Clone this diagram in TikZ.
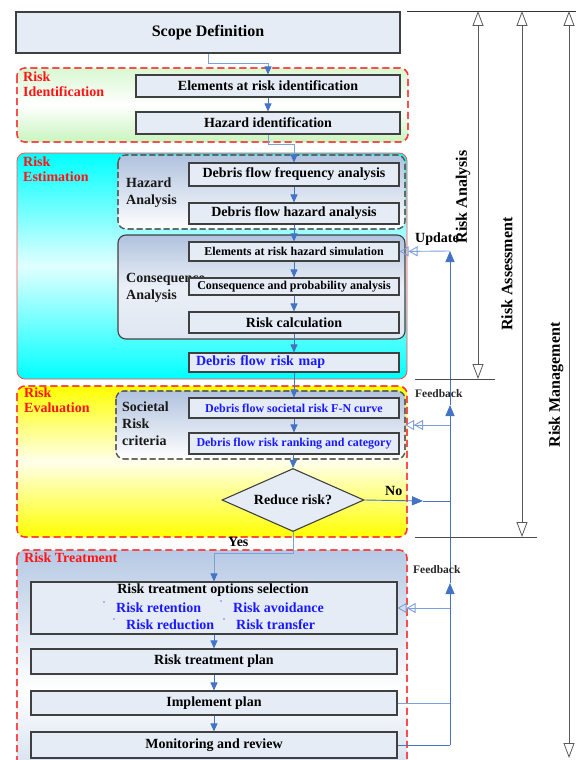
\documentclass[tikz,border=0pt]{standalone}
\usepackage{fontspec}
\setmainfont{Liberation Serif}
\usetikzlibrary{arrows.meta,shapes.geometric}
\definecolor{boxfill}{RGB}{230,236,246}
\definecolor{boxline}{RGB}{64,64,64}
\definecolor{flowblue}{RGB}{68,114,196}
\definecolor{lightblue}{RGB}{125,160,218}
\definecolor{txtblue}{RGB}{25,25,255}
\definecolor{lblred}{RGB}{255,20,20}
\definecolor{grpblue}{RGB}{176,194,222}
\definecolor{trtblue}{RGB}{182,201,228}
\definecolor{grngrad}{RGB}{200,245,190}
\begin{document}
\begin{tikzpicture}[x=1pt,y=-1pt,
  box/.style={draw=boxline, line width=1.1pt, fill=boxfill, inner sep=1pt,
    font=\bfseries\fontsize{14}{16}\selectfont},
  sbox/.style={box, font=\bfseries\fontsize{12}{14}\selectfont},
  flow/.style={draw=flowblue, line width=0.9pt, -{Triangle[length=8pt,width=7pt]}},
  thinflow/.style={draw=lightblue, line width=0.9pt, -{Triangle[length=8pt,width=7pt,color=flowblue]}},
  fb/.style={draw=flowblue, line width=0.9pt},
  fbtip/.style={fb, -{Triangle[length=11pt,width=9pt]}},
  dblopen/.style={draw=lightblue, line width=0.9pt,
    -{Triangle[open,length=9pt,width=10pt]Triangle[open,length=9pt,width=10pt]}},
  riskarr/.style={draw=black!65, line width=0.8pt,
    {Triangle[length=15pt,width=11pt,fill=white]}-{Triangle[length=15pt,width=11pt,fill=white]}},
  grpred/.style={draw=lblred!85, line width=1.3pt, dash pattern=on 7pt off 4pt, rounded corners=8},
  grpgray/.style={draw=black!65, line width=1.1pt, dash pattern=on 6pt off 3pt, rounded corners=8},
  lbl/.style={text=lblred, font=\bfseries\fontsize{14}{15}\selectfont, inner sep=0, align=left, anchor=north west},
  glbl/.style={text=black!90, font=\bfseries\fontsize{14}{17}\selectfont, inner sep=0, align=left, anchor=north west},
  rlbl/.style={font=\bfseries\fontsize{16}{18}\selectfont, rotate=90, inner sep=0},
  btxt/.style={text=txtblue, font=\bfseries\fontsize{14}{16}\selectfont, inner sep=0, anchor=base west},
  bdot/.style={fill=txtblue!60, draw=none, circle, inner sep=0, minimum size=1.6pt}
]
\useasboundingbox (0,0) rectangle (576,760);
\clip (0,0) rectangle (576,760);

% ---------- group backgrounds ----------
\path[grpred, top color=grngrad!70, bottom color=grngrad, middle color=white] (17,68) rectangle (408,142);
\draw[grpred] (17,68) rectangle (408,142);

\path[rounded corners=8, top color=cyan, bottom color=cyan, middle color=cyan!12] (17,153) rectangle (407,379);
\draw[draw=red!70, line width=0.8pt, rounded corners=8] (17,153) rectangle (407,379);

\path[grpgray, top color=grpblue, bottom color=white] (118,155) rectangle (405,229);
\draw[grpgray] (118,155) rectangle (405,229);
\draw[draw=boxline, line width=1.1pt, rounded corners=8, top color=grpblue, bottom color=grpblue!40, middle color=grpblue!25] (118,235) rectangle (405,339);

\path[grpred, top color=yellow, bottom color=yellow, middle color=yellow!8] (17,386) rectangle (407,537);
\draw[grpred] (17,386) rectangle (407,537);
\path[grpgray, top color=grpblue, bottom color=white] (116,391) rectangle (405,459);
\draw[grpgray] (116,391) rectangle (405,459);

\path[grpred, top color=trtblue, bottom color=trtblue, middle color=white] (17,550) rectangle (407,830);
\draw[grpred] (17,550) rectangle (407,830);

% ---------- group labels ----------
\node[lbl] (lri) at (23,72) {Risk\\Identification};
\node[lbl] (lre) at (23,157) {Risk\\Estimation};
\node[lbl] (lrv) at (24,388) {Risk\\Evaluation};
\node[lbl] (lrt) at (24,553) {Risk Treatment};
\node[glbl] (lha) at (126,178) {Hazard\\Analysis};
\node[glbl] (lca) at (126,273) {Consequence\\Analysis};
\node[glbl] (lsr) at (122,402) {Societal\\Risk\\criteria};

% ---------- boxes ----------
\node[box, font=\bfseries\fontsize{16}{18}\selectfont, minimum width=384, minimum height=41] (scope) at (208,32.5) {Scope Definition};
\node[box, minimum width=264, minimum height=22] (e1) at (268,86) {Elements at risk identification};
\node[box, minimum width=264, minimum height=22] (h1) at (268,123) {Hazard identification};

\node[box, minimum width=210, minimum height=23] (dff) at (294,174.5) {Debris flow frequency analysis};
\node[box, minimum width=210, minimum height=21] (dfh) at (294,213.5) {Debris flow hazard analysis};
\node[sbox, minimum width=210, minimum height=19] (ers) at (294,251.5) {Elements at risk hazard simulation};
\node[sbox, minimum width=210, minimum height=17] (cpa) at (294,286.5) {Consequence and probability analysis};
\node[box, minimum width=210, minimum height=21] (rc) at (294,322.5) {Risk calculation};
\node[box, minimum width=210, minimum height=19, text=txtblue, align=left, text width=196] (map) at (294,362.5) {Debris flow risk map};

\node[sbox, minimum width=210, minimum height=20, text=txtblue] (fn) at (294,408) {Debris flow societal risk F-N curve};
\node[sbox, minimum width=210, minimum height=21, text=txtblue] (rank) at (294,443.5) {Debris flow risk ranking and category};
\node[box, diamond, shape aspect=2.25, inner sep=0, minimum width=142, minimum height=63] (dia) at (293,500) {Reduce risk?};

\node[box, minimum width=366, minimum height=52] (opt) at (214,608) {};
\node[font=\bfseries\fontsize{14}{16}\selectfont, inner sep=0] (optt) at (213,590) {Risk treatment options selection};
\node[bdot] (b1) at (104,602) {};
\node[bdot] (b2) at (221,601) {};
\node[bdot] (b3) at (114,619) {};
\node[bdot] (b4) at (224,619) {};
\node[btxt] (o1) at (116,612) {Risk retention};
\node[btxt] (o2) at (233,612) {Risk avoidance};
\node[btxt] (o3) at (126,629) {Risk reduction};
\node[btxt] (o4) at (236,629) {Risk transfer};

\node[box, minimum width=366, minimum height=25] (plan) at (214,661.5) {Risk treatment plan};
\node[box, minimum width=366, minimum height=24] (impl) at (214,703) {Implement plan};
\node[box, minimum width=366, minimum height=26] (mon) at (214,745) {Monitoring and review};

% ---------- flow connectors ----------
\draw[thinflow] (scope.south) -- ++(0,10) -| (e1.north);
\draw[flow] (e1) -- (h1);
\draw[thinflow] (h1.south) -- ++(0,10) -| (dff.north);
\draw[flow] (dff) -- (dfh);
\draw[flow] (dfh) -- (ers);
\draw[flow] (ers) -- (cpa);
\draw[flow] (cpa) -- (rc);
\draw[flow] (rc) -- (map);
\draw[flow] (map) -- (fn);
\draw[flow] (fn) -- (rank);
\draw[flow] (rank) -- (dia.north);
\draw[thinflow] (dia.south) -- ++(0,21) -| (opt.north);
\draw[flow] (opt) -- (plan);
\draw[flow] (plan) -- (impl);
\draw[flow] (impl) -- (mon);

\node[font=\bfseries\fontsize{14}{16}\selectfont, inner sep=0, anchor=base west] (yes) at (228,546) {Yes};
\node[font=\bfseries\fontsize{14}{16}\selectfont, inner sep=0, anchor=base west] (no) at (385,495) {No};

% ---------- feedback loop ----------
\coordinate (fbA) at (450,745);
\coordinate (fbB) at (450,583);
\coordinate (fbC) at (450,405);
\coordinate (fbD) at (450,251);
\coordinate (fbImp) at (450,703);
\coordinate (fbOpt) at (450,608);
\coordinate (fbSoc) at (450,425);
\coordinate (socE) at (405,425);
\coordinate (fbNo) at (450,501);
\coordinate (noTip) at (423,501);
\draw[fb] (mon.east) -- (fbA);
\draw[fbtip] (fbA) -- (fbB);
\draw[fbtip] (fbB) -- (fbC);
\draw[fbtip] (fbC) -- (fbD);
\draw[draw=lightblue, line width=0.8pt] (impl.east) -- (fbImp);
\draw[dblopen] (fbD) -- (ers.east);
\draw[dblopen] (fbSoc) -- (socE);
\draw[dblopen] (fbOpt) -- (opt.east);
\draw[fbtip] (dia.east) -- (noTip);
\draw[fb] (noTip) -- (fbNo);

\node[font=\bfseries\fontsize{14}{16}\selectfont, inner sep=0, anchor=base west] (upd) at (415,242) {Update};
\node[font=\bfseries\fontsize{11.5}{13}\selectfont, inner sep=0, anchor=base west, text=black!85] (fb1) at (415,397) {Feedback};
\node[font=\bfseries\fontsize{11.5}{13}\selectfont, inner sep=0, anchor=base west, text=black!85] (fb2) at (413,573) {Feedback};

% ---------- right-hand scale ----------
\coordinate (topL) at (407,11);
\coordinate (topR) at (576,11);
\draw[draw=black!80, line width=0.8pt] (topL) -- (topR);
\coordinate (raT) at (478,11);  \coordinate (raB) at (478,379);
\coordinate (asT) at (522,11);  \coordinate (asB) at (522,537);
\coordinate (rmT) at (569,11);  \coordinate (rmB) at (569,758);
\draw[riskarr] (raT) -- (raB);
\draw[riskarr] (asT) -- (asB);
\draw[riskarr] (rmT) -- (rmB);
\coordinate (raL) at (415,379); \coordinate (raR) at (495,379);
\coordinate (asL) at (415,537); \coordinate (asR) at (537,537);
\draw[draw=black!70, line width=0.8pt] (raL) -- (raR);
\draw[draw=black!70, line width=0.8pt] (asL) -- (asR);
\node[rlbl] (lra) at (463,197) {Risk Analysis};
\node[rlbl] (las) at (507,274) {Risk Assessment};
\node[rlbl] (lrm) at (556,385) {Risk Management};
\end{tikzpicture}
\end{document}
